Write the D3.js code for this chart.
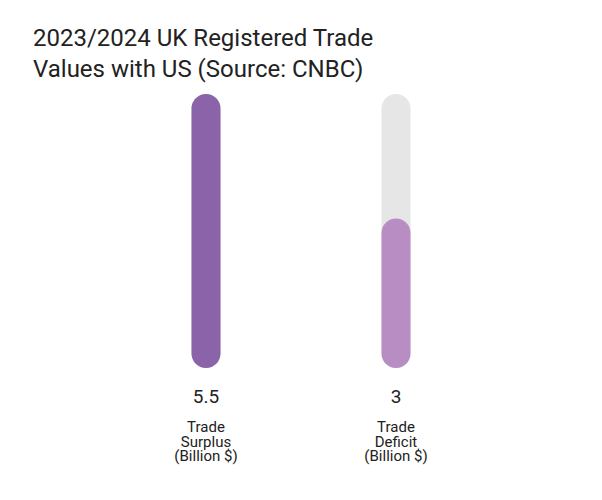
<!doctype html>
<html>
<head>
<script src="https://d3js.org/d3.v7.min.js"></script>
<style>
body { margin: 0; background: #fff; }
text { font-family: Roboto, sans-serif; fill: #222; }
</style>
</head>
<body>
<svg width="602" height="500"></svg>
<script>
var categories = ["Trade Surplus", "Trade Deficit"];
var values = [5.5, 3];
var labelLines = [["Trade", "Surplus", "(Billion $)"], ["Trade", "Deficit", "(Billion $)"]];
var colors = ["#8a63a8", "#b88dc4"];
var maxValue = 5.5;

var svg = d3.select("svg");

svg.append("text").attr("x", 33).attr("y", 46).style("font-size", "24px")
    .text("2023/2024 UK Registered Trade");
svg.append("text").attr("x", 33).attr("y", 77).style("font-size", "24px")
    .text("Values with US (Source: CNBC)");

var x = d3.scalePoint().domain(categories).range([206, 396]);
var y = d3.scaleLinear().domain([0, maxValue]).range([368, 94]);
var barW = 29;

var g = svg.selectAll(".bar").data(categories).enter().append("g").attr("class", "bar");

// track
g.append("rect")
    .attr("x", function(d) { return x(d) - barW / 2; })
    .attr("y", y(maxValue))
    .attr("width", barW)
    .attr("height", y(0) - y(maxValue))
    .attr("rx", barW / 2)
    .attr("fill", "#e6e6e6");

g.append("rect")
    .attr("x", function(d) { return x(d) - barW / 2; })
    .attr("y", function(d, i) { return y(values[i]); })
    .attr("width", barW)
    .attr("height", function(d, i) { return y(0) - y(values[i]); })
    .attr("rx", barW / 2)
    .attr("fill", function(d, i) { return colors[i]; });

g.append("text")
    .attr("x", function(d) { return x(d); })
    .attr("y", 403)
    .attr("text-anchor", "middle")
    .style("font-size", "19px")
    .text(function(d, i) { return values[i]; });

g.each(function(d, i) {
  var t = d3.select(this).append("text")
      .attr("text-anchor", "middle")
      .style("font-size", "15px");
  labelLines[i].forEach(function(line, j) {
    t.append("tspan").attr("x", x(d)).attr("y", 432 + j * 14.5).text(line);
  });
});
</script>
</body>
</html>
